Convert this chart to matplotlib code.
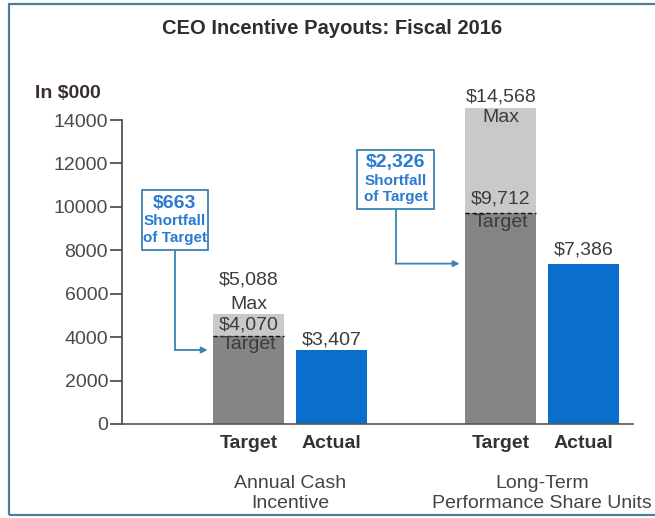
import matplotlib
matplotlib.use("Agg")
import matplotlib.pyplot as plt
from matplotlib.patches import Rectangle, FancyArrowPatch

plt.rcParams['font.family'] = ['Liberation Sans', 'DejaVu Sans']

# ---- data (in $000) ----
groups = ["Annual Cash\nIncentive", "Long-Term\nPerformance Share Units"]
bar_names = ["Target", "Actual"]
target_vals = [4070, 9712]
max_vals = [5088, 14568]
actual_vals = [3407, 7386]
shortfalls = [663, 2326]
y_ticks = [0, 2000, 4000, 6000, 8000, 10000, 12000, 14000]

DARK_GRAY = "#858585"
LIGHT_GRAY = "#c9c9c9"
BLUE = "#0a6ecc"
CALLOUT = "#3a84b4"
CALLOUT_TEXT = "#2b7bd2"
TEXT = "#3c3c3c"

fig = plt.figure(figsize=(6.55, 5.18), dpi=100)

# outer frame
frame = Rectangle((9 / 655, 3 / 518), 1.2, 511 / 518, transform=fig.transFigure,
                  fill=False, edgecolor="#4b7f9c", linewidth=1.6, clip_on=False)
fig.patches.append(frame)

ax = fig.add_axes([122 / 655, 94 / 518, 511 / 655, 325.7 / 518])
ax.set_xlim(0, 10)
ax.set_ylim(0, 15000)

group_x = [3.29, 8.22]
offset = 0.81
width = 1.39

for gx, tv, mv, av in zip(group_x, target_vals, max_vals, actual_vals):
    tx = gx - offset
    axx = gx + offset
    # target bar (dark) with max extension (light)
    ax.bar(tx, tv, width=width, color=DARK_GRAY, zorder=2)
    ax.bar(tx, mv - tv, bottom=tv, width=width, color=LIGHT_GRAY, zorder=2)
    ax.plot([tx - width / 2, tx + width / 2], [tv, tv], color="#111111",
            linestyle=(0, (3, 2)), linewidth=1.0, zorder=3)
    # actual bar
    ax.bar(axx, av, width=width, color=BLUE, zorder=2)

# value labels
lab_kw = dict(ha="center", color=TEXT, fontsize=14, zorder=4)
# Annual Cash Incentive
tx0 = group_x[0] - offset
ax.text(tx0, max_vals[0] + 1550, f"${max_vals[0]:,}", va="center", **lab_kw)
ax.text(tx0, max_vals[0] + 40, "Max", va="bottom", **lab_kw)
ax.text(tx0, target_vals[0] + 80, f"${target_vals[0]:,}", va="bottom", **lab_kw)
ax.text(tx0, target_vals[0] - 40, "Target", va="top", **lab_kw)
ax.text(group_x[0] + offset, actual_vals[0] + 80, f"${actual_vals[0]:,}", va="bottom", **lab_kw)
# Long-Term Performance Share Units
tx1 = group_x[1] - offset
ax.text(tx1, max_vals[1] + 80, f"${max_vals[1]:,}", va="bottom", **lab_kw)
ax.text(tx1, max_vals[1] - 50, "Max", va="top", **lab_kw)
ax.text(tx1, target_vals[1] + 250, f"${target_vals[1]:,}", va="bottom", **lab_kw)
ax.text(tx1, target_vals[1] - 40, "Target", va="top", **lab_kw)
ax.text(group_x[1] + offset, actual_vals[1] + 250, f"${actual_vals[1]:,}", va="bottom", **lab_kw)

# shortfall callouts
boxes = [(0.39, 1.68, 8015, 10778), (4.60, 6.11, 9903, 12621)]
for (x0, x1, y0, y1), sf, av, gx in zip(boxes, shortfalls, actual_vals, group_x):
    ax.add_patch(Rectangle((x0, y0), x1 - x0, y1 - y0, fill=True, facecolor="white",
                           edgecolor=CALLOUT, linewidth=1.3, zorder=5, clip_on=False))
    cx = (x0 + x1) / 2
    h = y1 - y0
    ax.text(cx, y1 - 0.22 * h, f"${sf:,}", ha="center", va="center", color=CALLOUT_TEXT,
            fontsize=14, fontweight="bold", zorder=6)
    ax.text(cx, y1 - 0.52 * h, "Shortfall", ha="center", va="center", color=CALLOUT_TEXT,
            fontsize=11, fontweight="bold", zorder=6)
    ax.text(cx, y1 - 0.80 * h, "of Target", ha="center", va="center", color=CALLOUT_TEXT,
            fontsize=11, fontweight="bold", zorder=6)
    # connector: down from box, then right to the target bar at the actual level
    bar_left = gx - offset - width / 2
    tip = bar_left - 0.11
    ax.plot([cx, cx], [y0, av], color=CALLOUT, linewidth=1.3, zorder=5,
            solid_capstyle="butt")
    ax.add_patch(FancyArrowPatch((cx, av), (tip, av), arrowstyle="-|>",
                                 mutation_scale=9, color=CALLOUT, linewidth=1.3,
                                 shrinkA=0, shrinkB=0, zorder=5))

# axes styling
for side in ["top", "right"]:
    ax.spines[side].set_visible(False)
ax.spines["left"].set_bounds(0, 14000)
ax.spines["left"].set_color("#444444")
ax.spines["left"].set_linewidth(1.2)
ax.spines["bottom"].set_color("#555555")
ax.spines["bottom"].set_linewidth(1.2)
ax.set_yticks(y_ticks)
ax.set_yticklabels([str(v) for v in y_ticks])
ax.tick_params(axis="y", length=9, width=1.2, color="#444444", pad=1,
               labelsize=14, labelcolor="#4a4a4a")

xt = []
xl = []
for gx in group_x:
    xt += [gx - offset, gx + offset]
    xl += bar_names
ax.set_xticks(xt)
ax.set_xticklabels(xl, fontsize=14, fontweight="bold", color="#333333")
ax.tick_params(axis="x", length=0, pad=8)

for gx, g in zip(group_x, groups):
    ax.text(gx, -2350, g, ha="center", va="top", fontsize=14, color="#444444",
            linespacing=1.2)

# title and unit label
fig.text(332 / 655, 1 - 28 / 518, "CEO Incentive Payouts: Fiscal 2016", ha="center",
         va="center", fontsize=14.5, fontweight="bold", color="#2e2e2e")
fig.text(35 / 655, 1 - 93 / 518, "In $000", ha="left", va="center", fontsize=14,
         fontweight="bold", color="#3a2d2d")

fig.savefig("out.png", dpi=100)
